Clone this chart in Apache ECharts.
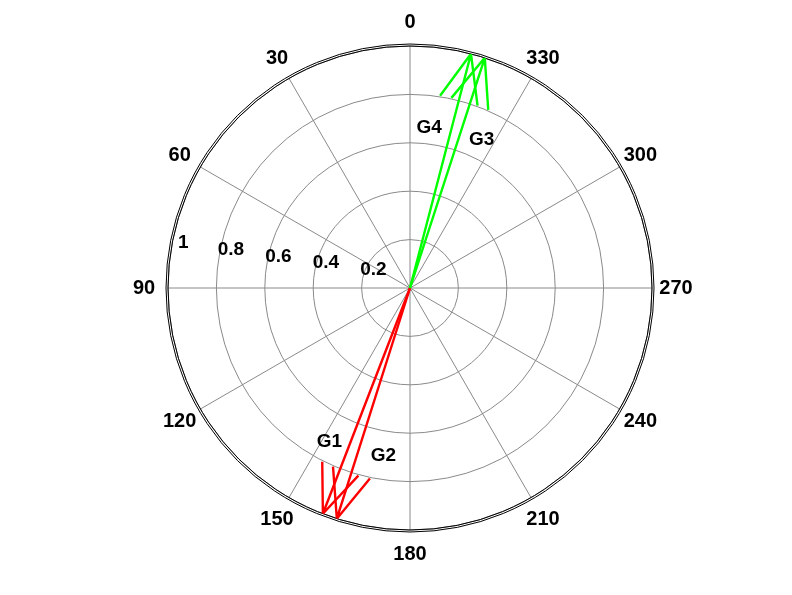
<!DOCTYPE html>
<html><head><meta charset="utf-8">
<script src="https://cdn.jsdelivr.net/npm/echarts@6/dist/echarts.min.js"></script>
<style>html,body{margin:0;padding:0;background:#fff}#c{width:792px;height:595px}</style>
</head><body><div id="c"></div>
<script>
// ---- data ----
const groupNames = ['G1', 'G2', 'G3', 'G4'];
const magnitudes = [1.0, 1.0, 1.0, 1.0];
const anglesDeg = [158.9, 162.4, 342.0, 345.4];
// text annotation anchors in data space (radius, angle)
const labelRadius = [0.718, 0.703, 0.681, 0.666];
const labelAngle = [152.4, 171.0, 334.2, 353.2];
const angleTicks = [0, 30, 60, 90, 120, 150, 180, 210, 240, 270, 300, 330];
const radiusTicks = [0.2, 0.4, 0.6, 0.8, 1];

// ---- style ----
const groupColor = ['#ff0000', '#ff0000', '#00ff00', '#00ff00'];
const FONT = 'Liberation Sans, Arial, sans-serif';
const GRID = '#8a8a8a';
const CX = 410, CY = 288, R = 242;

const chart = echarts.init(document.getElementById('c'), null, {renderer: 'canvas'});

const boldText = size => ({color: '#000', fontFamily: FONT, fontWeight: 'bold', fontSize: size});

const series = [];
groupNames.forEach((name, i) => {
  const r = magnitudes[i], t = anglesDeg[i];
  const hr = r * Math.hypot(0.8, 0.08);
  const dt = Math.atan2(0.08, 0.8) * 180 / Math.PI;
  series.push({
    type: 'line', coordinateSystem: 'polar', polarIndex: 0, name,
    symbol: 'none', silent: true, animation: false, z: 10,
    lineStyle: {color: groupColor[i], width: 2.4},
    data: [[0, t], [r, t], [hr, t + dt], [r, t], [hr, t - dt]]
  });
});
// group text annotations
series.push({
  type: 'scatter', coordinateSystem: 'polar', polarIndex: 0, symbolSize: 0,
  silent: true, animation: false, z: 11,
  itemStyle: {opacity: 1},
  data: groupNames.map((n, i) => ({name: n, value: [labelRadius[i], labelAngle[i]]})),
  label: Object.assign({show: true, position: 'inside', formatter: '{b}',
    align: 'center', verticalAlign: 'middle'}, boldText(19))
});
// angle tick labels, placed on a slightly larger ring
series.push({
  type: 'scatter', coordinateSystem: 'polar', polarIndex: 3, symbolSize: 0,
  silent: true, animation: false, z: 11,
  itemStyle: {opacity: 1},
  data: angleTicks.map(a => ({name: String(a), value: [1, a]})),
  label: Object.assign({show: true, position: 'inside', formatter: '{b}',
    align: 'center', verticalAlign: 'middle'}, boldText(20))
});

const hiddenAngle = (idx, start, extra) => Object.assign({
  polarIndex: idx, type: 'value', min: 0, max: 360, startAngle: start, clockwise: false,
  axisLine: {show: false}, axisTick: {show: false}, axisLabel: {show: false}, splitLine: {show: false}
}, extra || {});
const hiddenRadius = (idx, extra) => Object.assign({
  polarIndex: idx, type: 'value', min: 0, max: 1,
  axisLine: {show: false}, axisTick: {show: false}, axisLabel: {show: false}, splitLine: {show: false}
}, extra || {});

const option = {
  backgroundColor: '#fff',
  animation: false,
  polar: [
    {center: [CX, CY], radius: R},
    {center: [CX, CY], radius: R + 2},
    {center: [CX + 11, CY - 11.5], radius: 240},
    {center: [CX, CY + 0.8], radius: 266}
  ],
  angleAxis: [
    hiddenAngle(0, 90, {
      interval: 30,
      axisLine: {show: true, lineStyle: {color: '#000', width: 1}},
      splitLine: {show: true, lineStyle: {color: GRID, width: 1}},
      z: 5
    }),
    hiddenAngle(1, 90, {axisLine: {show: true, lineStyle: {color: '#000', width: 1}}, z: 5}),
    hiddenAngle(2, 172),
    hiddenAngle(3, 90)
  ],
  radiusAxis: [
    hiddenRadius(0, {interval: 0.2, splitLine: {show: true, lineStyle: {color: GRID, width: 1}}}),
    hiddenRadius(1),
    hiddenRadius(2, {
      interval: 0.2,
      axisLabel: Object.assign({
        show: true, margin: 0, align: 'center', verticalAlign: 'middle',
        formatter: v => {
          const k = radiusTicks.findIndex(t => Math.abs(t - v) < 1e-9);
          return k >= 0 ? String(radiusTicks[k]) : '';
        }
      }, boldText(19)),
      z: 6
    }),
    hiddenRadius(3)
  ],
  series
};
chart.setOption(option);
</script>
</body></html>
